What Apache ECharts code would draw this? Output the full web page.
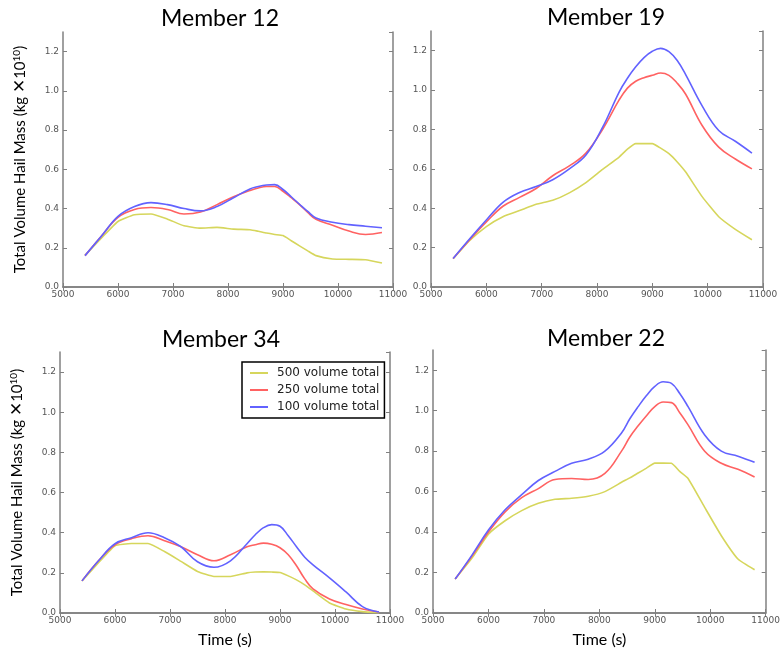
<!DOCTYPE html>
<html>
<head>
<meta charset="utf-8">
<script src="https://cdn.jsdelivr.net/npm/echarts@6/dist/echarts.min.js"></script>
<style>
  html, body { margin: 0; padding: 0; background: #fff; }
  #main { width: 783px; height: 649px; }
</style>
</head>
<body>
<div id="main"></div>
<script>
// time steps (s)
var times = [5400, 5700, 6000, 6300, 6600, 6900, 7200, 7500, 7800, 8100, 8400, 8550, 8700, 8850, 9000, 9150, 9300, 9450, 9600, 9900, 10200, 10500, 10800];

// Member 12
var m12_500 = [0.161, 0.25, 0.334, 0.368, 0.372, 0.346, 0.312, 0.300, 0.304, 0.295, 0.292, 0.284, 0.275, 0.268, 0.262, 0.236, 0.21, 0.184, 0.16, 0.143, 0.141, 0.139, 0.122];
var m12_250 = [0.16, 0.26, 0.355, 0.395, 0.405, 0.395, 0.372, 0.382, 0.42, 0.46, 0.492, 0.505, 0.512, 0.512, 0.488, 0.455, 0.42, 0.38, 0.345, 0.315, 0.285, 0.268, 0.278];
var m12_100 = [0.16, 0.26, 0.36, 0.41, 0.43, 0.42, 0.40, 0.388, 0.41, 0.455, 0.50, 0.512, 0.52, 0.522, 0.497, 0.46, 0.422, 0.385, 0.352, 0.33, 0.318, 0.31, 0.302];

// Member 19
var m19_500 = [0.143, 0.236, 0.307, 0.357, 0.388, 0.42, 0.44, 0.478, 0.53, 0.597, 0.66, 0.70, 0.728, 0.728, 0.728, 0.705, 0.677, 0.635, 0.585, 0.459, 0.357, 0.293, 0.24];
var m19_250 = [0.145, 0.24, 0.33, 0.41, 0.455, 0.50, 0.565, 0.615, 0.68, 0.80, 0.95, 1.01, 1.045, 1.063, 1.075, 1.087, 1.075, 1.035, 0.98, 0.82, 0.71, 0.65, 0.60];
var m19_100 = [0.145, 0.245, 0.34, 0.43, 0.48, 0.51, 0.545, 0.60, 0.67, 0.81, 0.99, 1.06, 1.118, 1.165, 1.197, 1.212, 1.195, 1.15, 1.08, 0.92, 0.795, 0.74, 0.68];

// Member 34
var m34_500 = [0.16, 0.25, 0.335, 0.346, 0.346, 0.306, 0.257, 0.207, 0.182, 0.182, 0.20, 0.204, 0.205, 0.204, 0.202, 0.185, 0.165, 0.14, 0.11, 0.05, 0.02, 0.007, 0.002];
var m34_250 = [0.16, 0.26, 0.34, 0.37, 0.385, 0.36, 0.33, 0.29, 0.26, 0.29, 0.33, 0.34, 0.348, 0.342, 0.325, 0.29, 0.235, 0.17, 0.12, 0.07, 0.042, 0.02, 0.005];
var m34_100 = [0.16, 0.26, 0.345, 0.375, 0.40, 0.375, 0.33, 0.255, 0.228, 0.26, 0.345, 0.39, 0.425, 0.44, 0.432, 0.385, 0.33, 0.278, 0.24, 0.175, 0.105, 0.032, 0.005];

// Member 22
var m22_500 = [0.168, 0.27, 0.39, 0.456, 0.506, 0.542, 0.562, 0.567, 0.577, 0.60, 0.646, 0.668, 0.692, 0.716, 0.741, 0.741, 0.74, 0.70, 0.665, 0.522, 0.382, 0.267, 0.214];
var m22_250 = [0.168, 0.28, 0.40, 0.50, 0.57, 0.615, 0.66, 0.665, 0.66, 0.69, 0.80, 0.87, 0.925, 0.975, 1.02, 1.043, 1.04, 0.99, 0.93, 0.80, 0.74, 0.71, 0.672];
var m22_100 = [0.168, 0.285, 0.41, 0.51, 0.585, 0.655, 0.70, 0.74, 0.76, 0.80, 0.89, 0.96, 1.02, 1.075, 1.12, 1.143, 1.135, 1.085, 1.02, 0.88, 0.80, 0.775, 0.745];

var seriesNames = ['500 volume total', '250 volume total', '100 volume total'];
var seriesColors = ['#d6d65c', '#ff6262', '#6262ff'];

var panels = [
    { title: 'Member 12', titleX: 215, titleY: 2, data: [m12_500, m12_250, m12_100], grid: { left: 63, top: 32, width: 330, height: 255 }, yName: true, xName: false },
    { title: 'Member 19', titleX: 601, titleY: 1, data: [m19_500, m19_250, m19_100], grid: { left: 431, top: 31, width: 332, height: 256 }, yName: false, xName: false },
    { title: 'Member 34', titleX: 216, titleY: 323, data: [m34_500, m34_250, m34_100], grid: { left: 60, top: 352, width: 330, height: 261 }, yName: true, xName: true },
    { title: 'Member 22', titleX: 601, titleY: 322, data: [m22_500, m22_250, m22_100], grid: { left: 433, top: 350, width: 339, height: 264 }, yName: false, xName: true }
];

function pairs(ys) {
    return times.map(function (t, i) { return [t, ys[i]]; });
}

var frameLine = { show: true, lineStyle: { color: '#808080', width: 1.5 } };
var tickIn = { show: true, inside: true, length: 4, lineStyle: { color: '#808080' } };
var tickFont = { fontFamily: 'DejaVu Sans', fontSize: 9, color: '#555' };
var yTitle = '{t|Total Volume Hail Mass (kg }{x|\u2715}{t|10}{s|10}{t|)}';

var grids = [], xAxes = [], yAxes = [], titles = [], series = [];

panels.forEach(function (p, i) {
    grids.push(p.grid);
    titles.push({
        text: p.title,
        left: p.titleX,
        top: p.titleY,
        textAlign: 'center',
        textStyle: { fontFamily: 'Lato', fontSize: 23, fontWeight: 'normal', color: '#000' }
    });
    // bottom and top x axes
    xAxes.push({
        type: 'value', gridIndex: i, position: 'bottom', min: 5000, max: 11000, interval: 1000,
        axisLine: frameLine, axisTick: tickIn, splitLine: { show: false },
        axisLabel: Object.assign({ margin: 3, formatter: function (v) { return String(v); } }, tickFont),
        name: p.xName ? 'Time (s)' : '', nameLocation: 'middle', nameGap: 19,
        nameTextStyle: { fontFamily: 'Lato', fontSize: 16, color: '#000' }
    });
    xAxes.push({
        type: 'value', gridIndex: i, position: 'top', min: 5000, max: 11000, interval: 1000,
        axisLine: frameLine, axisTick: tickIn, splitLine: { show: false }, axisLabel: { show: false }
    });
    // left and right y axes
    yAxes.push({
        type: 'value', gridIndex: i, position: 'left', min: 0, max: 1.3, interval: 0.2,
        axisLine: frameLine, axisTick: tickIn, splitLine: { show: false },
        axisLabel: Object.assign({ margin: 4, showMaxLabel: false, formatter: function (v) { return v.toFixed(1); } }, tickFont),
        name: p.yName ? yTitle : '', nameLocation: 'middle', nameGap: 34, nameRotate: 90,
        nameTextStyle: {
            fontFamily: 'Lato', fontSize: 15, color: '#000',
            rich: {
                t: { fontFamily: 'Lato', fontSize: 15, color: '#000' },
                x: { fontFamily: 'DejaVu Sans', fontSize: 17, color: '#000' },
                s: { fontFamily: 'Lato', fontSize: 10, color: '#000', verticalAlign: 'top', padding: [0, 0, 6, 0] }
            }
        }
    });
    yAxes.push({
        type: 'value', gridIndex: i, position: 'right', min: 0, max: 1.3, interval: 0.2,
        axisLine: frameLine, axisTick: tickIn, splitLine: { show: false }, axisLabel: { show: false }
    });
    p.data.forEach(function (ys, k) {
        series.push({
            name: seriesNames[k],
            type: 'line',
            xAxisIndex: i * 2,
            yAxisIndex: i * 2,
            data: pairs(ys),
            smooth: k === 0 ? 0.15 : 0.4,
            showSymbol: false,
            lineStyle: { color: seriesColors[k], width: 1.6 },
            itemStyle: { color: seriesColors[k] }
        });
    });
});

var myChart = echarts.init(document.getElementById('main'));
var option = {
    animation: false,
    backgroundColor: '#fff',
    title: titles,
    grid: grids,
    xAxis: xAxes,
    yAxis: yAxes,
    legend: {
        data: seriesNames,
        orient: 'vertical',
        left: 242,
        top: 362,
        backgroundColor: '#fff',
        borderColor: '#000',
        borderWidth: 1.5,
        borderRadius: 0,
        padding: [5, 5, 5, 8],
        itemGap: 5,
        itemWidth: 18,
        itemHeight: 2,
        icon: 'rect',
        textStyle: { fontFamily: 'DejaVu Sans', fontSize: 12, color: '#222', padding: [0, 0, 0, 4] }
    },
    series: series
};
myChart.setOption(option);
</script>
</body>
</html>
